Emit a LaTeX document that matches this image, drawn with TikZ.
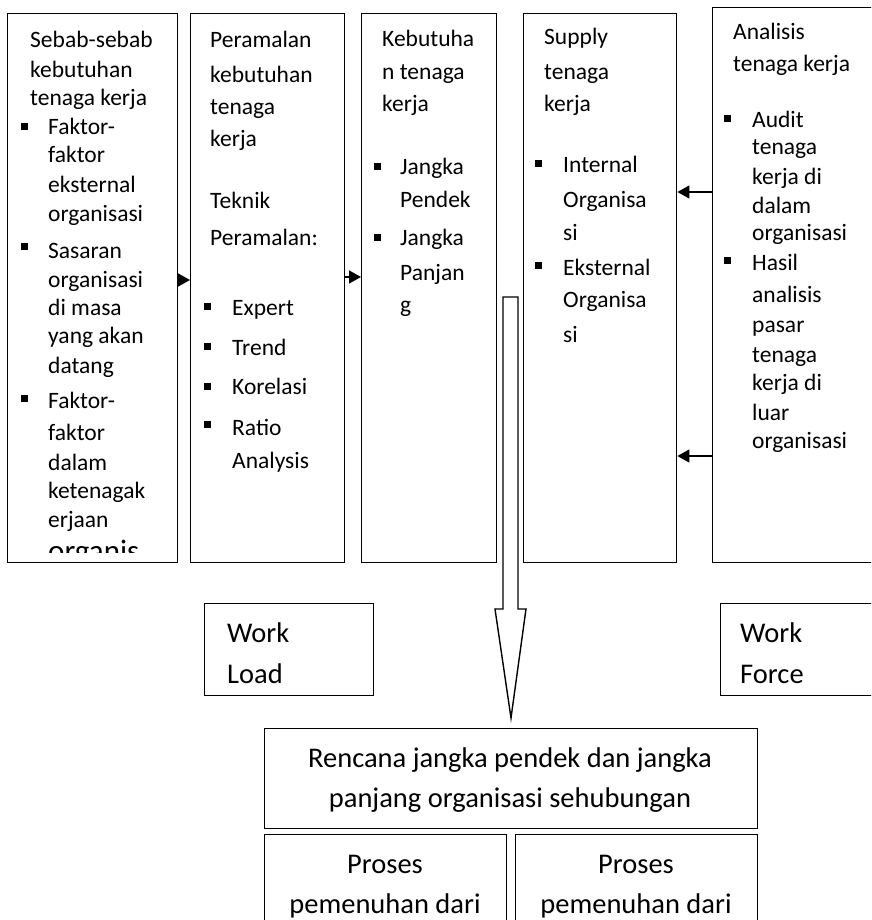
\documentclass[tikz,border=0pt]{standalone}
\usepackage{fontspec}
\setmainfont{Carlito}
\usetikzlibrary{arrows.meta}
\newcounter{tlc}
\newcommand\tl[3]{\stepcounter{tlc}\node[txt] (t\arabic{tlc}) at (#1,#2) {#3};}
\newcommand\bl[2]{\stepcounter{tlc}\node[bul] (q\arabic{tlc}) at (#1,#2) {};}
\newcommand\bt[3]{\stepcounter{tlc}\node[big] (u\arabic{tlc}) at (#1,#2) {#3};}
\begin{document}
\begin{tikzpicture}[x=1pt,y=-1pt,
 box/.style={draw, line width=1.4pt, inner sep=0pt, anchor=north west},
 txt/.style={anchor=base west, inner sep=0pt, font=\fontsize{23.5}{28}\selectfont},
 big/.style={anchor=base, inner sep=0pt, font=\fontsize{28.5}{34}\selectfont},
 bigl/.style={anchor=base west, inner sep=0pt, font=\fontsize{28.5}{34}\selectfont},
 bul/.style={fill=black, inner sep=0pt, minimum size=7pt},
 arr/.style={line width=1.4pt, -{Triangle[length=12pt,width=13pt]}},
 blockarrow/.style={draw, line width=1.4pt, fill=white, line join=miter}]
\clip (0,0) rectangle (871,920);
\fill[white] (0,0) rectangle (871,920);
% boxes
\node[box, minimum width=170pt, minimum height=549pt] (b1) at (7,13) {};
\node[box, minimum width=154pt, minimum height=549pt] (b2) at (190,13) {};
\node[box, minimum width=135pt, minimum height=549pt] (b3) at (361,13) {};
\node[box, minimum width=153pt, minimum height=549pt] (b4) at (523,13) {};
\node[box, minimum width=200pt, minimum height=555pt] (b5) at (712,7) {};
\node[box, minimum width=169pt, minimum height=92pt] (wl) at (204,603) {};
\node[box, minimum width=200pt, minimum height=92pt] (wf) at (720,603) {};
\node[box, minimum width=493pt, minimum height=100pt] (ren) at (264,728) {};
\node[box, minimum width=242pt, minimum height=120pt] (p1) at (264,834) {};
\node[box, minimum width=242pt, minimum height=120pt] (p2) at (515,834) {};
% arrows
\coordinate (r1) at (0,280);
\coordinate (r2) at (0,277);
\coordinate (r3) at (0,192);
\coordinate (r4) at (0,456);
\draw[arr] (b1.east |- r1) -- (b2.west |- r1);
\draw[arr] (b2.east |- r2) -- (b3.west |- r2);
\draw[arr] (b5.west |- r3) -- (b4.east |- r3);
\draw[arr] (b5.west |- r4) -- (b4.east |- r4);
% block arrow
\coordinate (tip) at (511,718);
\draw[blockarrow] (503,297) -- (518,297) -- (518,609) -- (526,609) -- (tip) -- (495,609) -- (503,609) -- cycle;
% box 1
\tl{30}{48}{Sebab-sebab}
\tl{30}{78}{kebutuhan}
\tl{30}{106}{tenaga kerja}
\bl{24}{127}
\tl{48}{135}{Faktor-}
\tl{48}{163}{faktor}
\tl{48}{193}{eksternal}
\tl{48}{221}{organisasi}
\bl{24}{246}
\tl{48}{258}{Sasaran}
\tl{48}{287}{organisasi}
\tl{48}{315}{di masa}
\tl{48}{343}{yang akan}
\tl{48}{373}{datang}
\bl{24}{398}
\tl{48}{408}{Faktor-}
\tl{48}{440}{faktor}
\tl{48}{470}{dalam}
\tl{48}{498}{ketenagak}
\tl{48}{527}{erjaan}
\begin{scope}
\clip (7,13) rectangle (177,552);
\node[txt, font=\fontsize{31}{36}\selectfont] (t0) at (48,561) {organis};
\end{scope}
% box 2
\tl{210}{48}{Peramalan}
\tl{210}{83}{kebutuhan}
\tl{210}{115}{tenaga}
\tl{210}{147}{kerja}
\tl{210}{208}{Teknik}
\tl{210}{245}{Peramalan:}
\bl{207}{306}
\tl{232}{315}{Expert}
\bl{207}{346}
\tl{232}{355}{Trend}
\bl{207}{386}
\tl{232}{394}{Korelasi}
\bl{207}{424}
\tl{232}{435}{Ratio}
\tl{232}{468}{Analysis}
% box 3
\tl{382}{47}{Kebutuha}
\tl{382}{80}{n tenaga}
\tl{382}{112}{kerja}
\bl{377}{167}
\tl{400}{175}{Jangka}
\tl{400}{207}{Pendek}
\bl{377}{237}
\tl{400}{245}{Jangka}
\tl{400}{280}{Panjan}
\tl{400}{312}{g}
% box 4
\tl{544}{45}{Supply}
\tl{544}{80}{tenaga}
\tl{544}{112}{kerja}
\bl{538}{164}
\tl{563}{173}{Internal}
\tl{563}{207}{Organisa}
\tl{563}{240}{si}
\bl{538}{265}
\tl{563}{275}{Eksternal}
\tl{563}{307}{Organisa}
\tl{563}{342}{si}
% box 5
\tl{733}{40}{Analisis}
\tl{733}{72}{tenaga kerja}
\bl{727}{119}
\tl{752}{128}{Audit}
\tl{752}{155}{tenaga}
\tl{752}{185}{kerja di}
\tl{752}{213}{dalam}
\tl{752}{240}{organisasi}
\bl{727}{260}
\tl{752}{270}{Hasil}
\tl{752}{302}{analisis}
\tl{752}{332}{pasar}
\tl{752}{362}{tenaga}
\tl{752}{390}{kerja di}
\tl{752}{420}{luar}
\tl{752}{448}{organisasi}
% work load / force
\node[bigl] (wl1) at (227,642) {Work};
\node[bigl] (wl2) at (227,683) {Load};
\node[bigl] (wf1) at (740,642) {Work};
\node[bigl] (wf2) at (740,683) {Force};
% bottom
\bt{510}{767}{Rencana jangka pendek dan jangka}
\bt{510}{807}{panjang organisasi sehubungan}
\bt{385}{873}{Proses}
\bt{385}{913}{pemenuhan dari}
\bt{636}{873}{Proses}
\bt{636}{913}{pemenuhan dari}
\end{tikzpicture}
\end{document}
